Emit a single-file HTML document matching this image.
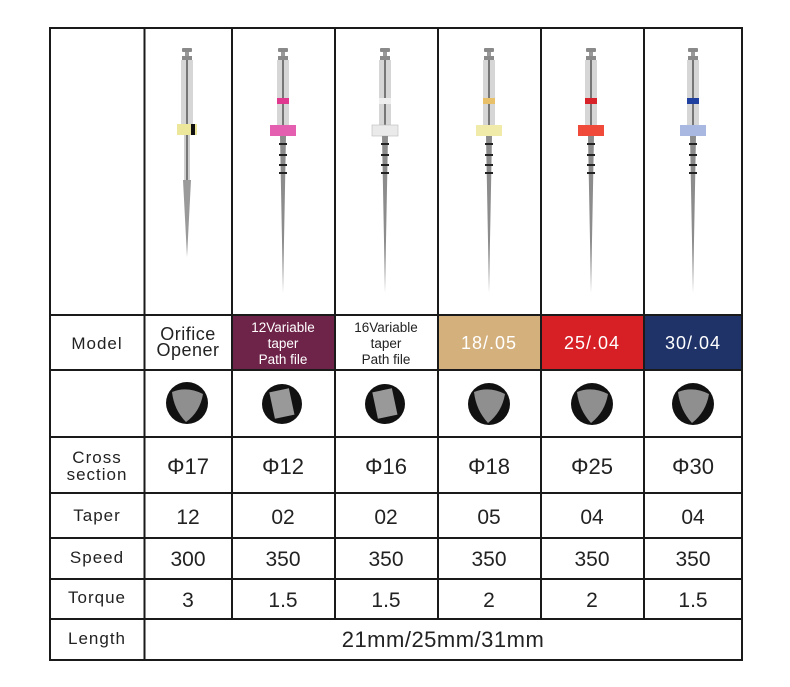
<!DOCTYPE html>
<html><head><meta charset="utf-8"><style>
html,body{margin:0;padding:0;background:#fff;}
svg text{font-family:"Liberation Sans",sans-serif;}
</style></head><body>
<svg width="790" height="682" viewBox="0 0 790 682" xmlns="http://www.w3.org/2000/svg">
<rect width="790" height="682" fill="#fff"/>
<!-- colored model cells -->
<rect x="232" y="315" width="103" height="55" fill="#6e2348"/>
<rect x="438" y="315" width="103" height="55" fill="#d4b07c"/>
<rect x="541" y="315" width="103" height="55" fill="#d71f26"/>
<rect x="644" y="315" width="98" height="55" fill="#1f3369"/>
<defs>
<g id="file">
  <rect x="-5" y="0" width="10" height="4" fill="#8a8a8a" rx="1"/>
  <rect x="-2" y="4" width="4" height="4" fill="#999"/>
  <rect x="-5" y="8" width="10" height="4" fill="#8a8a8a"/>
  <rect x="-6" y="12" width="12" height="68" fill="#d6d6d6"/>
  <rect x="-1" y="12" width="2" height="68" fill="#777"/>
</g>
</defs>
<g stroke="none">
<!-- col1 -->
<use href="#file" x="187" y="48"/>
<rect x="177" y="124" width="20" height="11" fill="#ece79a"/><rect x="191" y="124" width="4" height="11" fill="#111"/>
<rect x="184" y="135" width="6" height="45" fill="#cfcfcf"/><rect x="186" y="135" width="2" height="45" fill="#777"/>
<polygon points="183,180 191,180 187,257" fill="#9a9a9a"/>
<!-- col2 -->
<use href="#file" x="283" y="48"/>
<rect x="277" y="98" width="12" height="6" fill="#e0388f"/>
<rect x="270" y="125" width="26" height="11" fill="#e45fb0"/>
<polygon points="280,136 286,136 283,293" fill="#8c8c8c"/>
<g fill="#222"><rect x="279" y="143" width="8" height="2"/><rect x="279" y="154" width="8" height="2"/><rect x="279" y="164" width="8" height="2"/><rect x="279" y="172" width="8" height="2"/></g>
<!-- col3 -->
<use href="#file" x="385" y="48"/>
<rect x="379" y="98" width="12" height="6" fill="#eee"/>
<rect x="372" y="125" width="26" height="11" fill="#eaeaea" stroke="#bbb" stroke-width="0.6"/>
<polygon points="382,136 388,136 385,293" fill="#8c8c8c"/>
<g fill="#222"><rect x="381" y="143" width="8" height="2"/><rect x="381" y="154" width="8" height="2"/><rect x="381" y="164" width="8" height="2"/><rect x="381" y="172" width="8" height="2"/></g>
<!-- col4 -->
<use href="#file" x="489" y="48"/>
<rect x="483" y="98" width="12" height="6" fill="#e8c06a"/>
<rect x="476" y="125" width="26" height="11" fill="#f0eba8"/>
<polygon points="486,136 492,136 489,293" fill="#8c8c8c"/>
<g fill="#222"><rect x="485" y="143" width="8" height="2"/><rect x="485" y="154" width="8" height="2"/><rect x="485" y="164" width="8" height="2"/><rect x="485" y="172" width="8" height="2"/></g>
<!-- col5 -->
<use href="#file" x="591" y="48"/>
<rect x="585" y="98" width="12" height="6" fill="#d8222a"/>
<rect x="578" y="125" width="26" height="11" fill="#f04a3a"/>
<polygon points="588,136 594,136 591,293" fill="#8c8c8c"/>
<g fill="#222"><rect x="587" y="143" width="8" height="2"/><rect x="587" y="154" width="8" height="2"/><rect x="587" y="164" width="8" height="2"/><rect x="587" y="172" width="8" height="2"/></g>
<!-- col6 -->
<use href="#file" x="693" y="48"/>
<rect x="687" y="98" width="12" height="6" fill="#2040a0"/>
<rect x="680" y="125" width="26" height="11" fill="#a8b8e0"/>
<polygon points="690,136 696,136 693,293" fill="#8c8c8c"/>
<g fill="#222"><rect x="689" y="143" width="8" height="2"/><rect x="689" y="154" width="8" height="2"/><rect x="689" y="164" width="8" height="2"/><rect x="689" y="172" width="8" height="2"/></g>
</g>
<!-- cross sections -->
<g>
<circle cx="187" cy="403" r="21" fill="#111"/><path d="M172,392 Q187,386 203,394 Q200,412 186,422 Q174,410 172,392Z" fill="#8f8f8f"/>
<circle cx="282" cy="404" r="20" fill="#111"/><rect x="272" y="390" width="20" height="27" fill="#999" transform="rotate(-12 282 404)"/>
<circle cx="385" cy="404" r="20" fill="#111"/><rect x="375" y="390" width="20" height="27" fill="#999" transform="rotate(-12 385 404)"/>
<circle cx="489" cy="404" r="21" fill="#111"/><path d="M474,392 Q489,386 505,394 Q502,412 488,423 Q476,410 474,392Z" fill="#8f8f8f"/>
<circle cx="592" cy="404" r="21" fill="#111"/><path d="M577,392 Q592,386 608,394 Q605,412 591,423 Q579,410 577,392Z" fill="#8f8f8f"/>
<circle cx="693" cy="404" r="21" fill="#111"/><path d="M678,392 Q693,386 709,394 Q706,412 692,423 Q680,410 678,392Z" fill="#8f8f8f"/>
</g>
<!-- grid -->
<g stroke="#1a1a1a" stroke-width="2" fill="none">
<rect x="50" y="28" width="692" height="632"/>
<line x1="144.5" y1="28" x2="144.5" y2="660"/>
<line x1="232" y1="28" x2="232" y2="620"/>
<line x1="335" y1="28" x2="335" y2="620"/>
<line x1="438" y1="28" x2="438" y2="620"/>
<line x1="541" y1="28" x2="541" y2="620"/>
<line x1="644" y1="28" x2="644" y2="620"/>
<line x1="50" y1="315" x2="742" y2="315"/>
<line x1="50" y1="370" x2="742" y2="370"/>
<line x1="50" y1="437" x2="742" y2="437"/>
<line x1="50" y1="493" x2="742" y2="493"/>
<line x1="50" y1="538" x2="742" y2="538"/>
<line x1="50" y1="579" x2="742" y2="579"/>
<line x1="50" y1="619" x2="742" y2="619"/>
</g>
<g text-anchor="middle" fill="#222">
<text x="97" y="349" font-size="17" letter-spacing="1">Model</text>
<text x="188" y="340" font-size="18" letter-spacing="0.5">Orifice</text>
<text x="188" y="356" font-size="18" letter-spacing="0.5">Opener</text>
<g font-size="13.5" fill="#fff"><text x="283" y="332">12Variable</text><text x="283" y="348">taper</text><text x="283" y="364">Path file</text></g>
<g font-size="13.5"><text x="386" y="332">16Variable</text><text x="386" y="348">taper</text><text x="386" y="364">Path file</text></g>
<g font-size="18" fill="#fff" letter-spacing="1"><text x="489" y="349">18/.05</text><text x="592" y="349">25/.04</text><text x="693" y="349">30/.04</text></g>
<text x="97" y="463" font-size="17" letter-spacing="1">Cross</text>
<text x="97" y="480" font-size="17" letter-spacing="1">section</text>
<g font-size="22"><text x="188" y="474">Φ17</text><text x="283" y="474">Φ12</text><text x="386" y="474">Φ16</text><text x="489" y="474">Φ18</text><text x="592" y="474">Φ25</text><text x="693" y="474">Φ30</text></g>
<text x="97" y="521" font-size="17" letter-spacing="1">Taper</text>
<g font-size="21"><text x="188" y="524">12</text><text x="283" y="524">02</text><text x="386" y="524">02</text><text x="489" y="524">05</text><text x="592" y="524">04</text><text x="693" y="524">04</text></g>
<text x="97" y="563" font-size="17" letter-spacing="1">Speed</text>
<g font-size="21"><text x="188" y="566">300</text><text x="283" y="566">350</text><text x="386" y="566">350</text><text x="489" y="566">350</text><text x="592" y="566">350</text><text x="693" y="566">350</text></g>
<text x="97" y="603" font-size="17" letter-spacing="1">Torque</text>
<g font-size="21"><text x="188" y="607">3</text><text x="283" y="607">1.5</text><text x="386" y="607">1.5</text><text x="489" y="607">2</text><text x="592" y="607">2</text><text x="693" y="607">1.5</text></g>
<text x="97" y="644" font-size="17" letter-spacing="1">Length</text>
<text x="443" y="647" font-size="22" letter-spacing="0.5">21mm/25mm/31mm</text>
</g>
</svg>
</body></html>
